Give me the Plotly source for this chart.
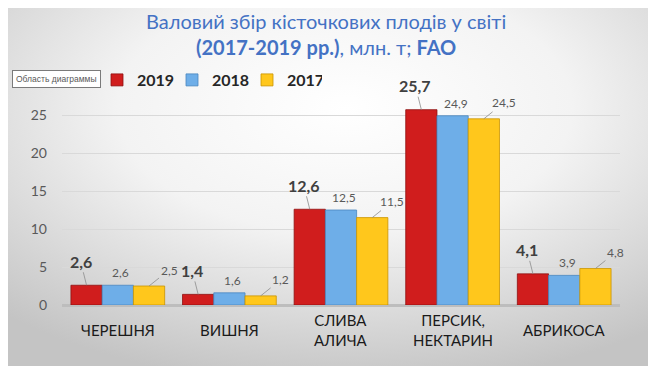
import base64
import plotly.graph_objects as go

categories = ["ЧЕРЕШНЯ", "ВИШНЯ", "СЛИВА<br>АЛИЧА", "ПЕРСИК,<br>НЕКТАРИН", "АБРИКОСА"]
years = ["2019", "2018", "2017"]
v2019 = [2.6, 1.4, 12.6, 25.7, 4.1]
v2018 = [2.6, 1.6, 12.5, 24.9, 3.9]
v2017 = [2.5, 1.2, 11.5, 24.5, 4.8]
y_ticks = [0, 5, 10, 15, 20, 25, 30]

series = [v2019, v2018, v2017]
colors = ["#D01D1D", "#6EAEE8", "#FFC71C"]
edges = ["#8E1010", "#4A87BF", "#C99400"]

# page has an 8px body margin; figure sized to fill the rest of the 656x366 window
OFF = 8
W, H = 656 - OFF, 366 - OFF
PL, PR, PT, PB = 62, 620, 77, 305          # plot area in window pixels
ML, MR, MT, MB = PL - OFF, 656 - PR, PT - OFF, 366 - PB
PW, PH = PR - PL, PB - PT

def px_x(p):
    return (p - PL) / PW

def px_y(p):
    return (PB - p) / PH

BARGAP = 0.16
bw = (1 - BARGAP) / 3
xs = list(range(len(categories)))

svg = (
    f'<svg xmlns="http://www.w3.org/2000/svg" width="{W}" height="{H}">'
    '<defs><radialGradient id="g" cx="52%" cy="28%" r="78%">'
    '<stop offset="0" stop-color="#ffffff"/>'
    '<stop offset="0.45" stop-color="#f3f3f3"/>'
    '<stop offset="1" stop-color="#c4c4c4"/>'
    '</radialGradient></defs>'
    f'<rect width="{W}" height="{H}" fill="url(#g)"/></svg>'
)
bg_src = "data:image/svg+xml;base64," + base64.b64encode(svg.encode()).decode()

fig = go.Figure()
for k, (name, vals) in enumerate(zip(years, series)):
    fig.add_trace(go.Bar(
        x=xs, y=vals, name=name,
        marker=dict(color=colors[k], line=dict(color=edges[k], width=0.8)),
        hoverinfo="skip",
    ))

def fmt(v):
    return f"{v:.1f}".replace(".", ",")

ann = []
for k, vals in enumerate(series):
    for i, v in enumerate(vals):
        x = i + (k - 1) * bw
        if k == 0:
            ann.append(dict(x=x, y=v, xref="x", yref="y", text=f"<b>{fmt(v)}</b>",
                            showarrow=True, arrowhead=0, arrowwidth=0.8, arrowcolor="#8c8c8c",
                            ax=-6, ay=-24, standoff=0,
                            font=dict(size=16, color="#404040", family="Lato")))
        elif k == 1:
            ann.append(dict(x=x, y=v, xref="x", yref="y", text=fmt(v), showarrow=False,
                            yanchor="bottom", yshift=3, xshift=3,
                            font=dict(size=12, color="#595959", family="Lato")))
        else:
            ann.append(dict(x=x, y=v, xref="x", yref="y", text=fmt(v),
                            showarrow=True, arrowhead=0, arrowwidth=0.8, arrowcolor="#8c8c8c",
                            ax=20, ay=-16, standoff=0,
                            font=dict(size=12, color="#595959", family="Lato")))

for i, c in enumerate(categories):
    ann.append(dict(x=i, y=px_y(330), xref="x", yref="paper", text=c, showarrow=False,
                    yanchor="middle", font=dict(size=15, color="#1a1a1a", family="Lato")))

ann.append(dict(x=px_x(326), y=px_y(7), xref="paper", yref="paper", xanchor="center", yanchor="top",
                text="Валовий збір кісточкових плодів у світі<br><b>(2017-2019 рр.)</b>, млн. т; <b>FAO</b>",
                showarrow=False, font=dict(size=20, color="#4472C4", family="Lato")))

ann.append(dict(x=px_x(12), y=px_y(79), xref="paper", yref="paper", xanchor="left", yanchor="middle",
                text="Область диаграммы", showarrow=False, bgcolor="white",
                bordercolor="#7a7a7a", borderwidth=1, borderpad=3,
                font=dict(size=8.5, color="#595959", family="Liberation Sans")))

fig.update_layout(
    width=W, height=H,
    margin=dict(l=ML, r=MR, t=MT, b=MB, autoexpand=False),
    paper_bgcolor="#efefef",
    plot_bgcolor="rgba(0,0,0,0)",
    images=[dict(source=bg_src, xref="paper", yref="paper", x=px_x(OFF), y=px_y(OFF),
                 sizex=W / PW, sizey=H / PH, sizing="stretch",
                 xanchor="left", yanchor="top", layer="below")],
    barmode="group", bargap=BARGAP, bargroupgap=0,
    legend=dict(orientation="h", x=(97 - OFF) / W, xanchor="left", xref="container",
                y=1 - (80 - OFF) / H, yanchor="middle", yref="container",
                bgcolor="rgba(0,0,0,0)", entrywidth=30, entrywidthmode="pixels",
                font=dict(size=16, color="#262626", family="Lato", weight="bold"),
                traceorder="normal", itemwidth=30),
    xaxis=dict(range=[-0.5, len(categories) - 0.5], showticklabels=False,
               showgrid=False, zeroline=False, showline=False),
    yaxis=dict(range=[0, 30], tickvals=y_ticks, showgrid=True, gridcolor="#d9d9d9",
               zeroline=True, zerolinecolor="#bdbdbd", zerolinewidth=3,
               ticklabelstandoff=14, automargin=False,
               tickfont=dict(size=14, color="#595959", family="Lato")),
    annotations=ann,
    font=dict(family="Lato"),
)

fig.write_html("out.html")
